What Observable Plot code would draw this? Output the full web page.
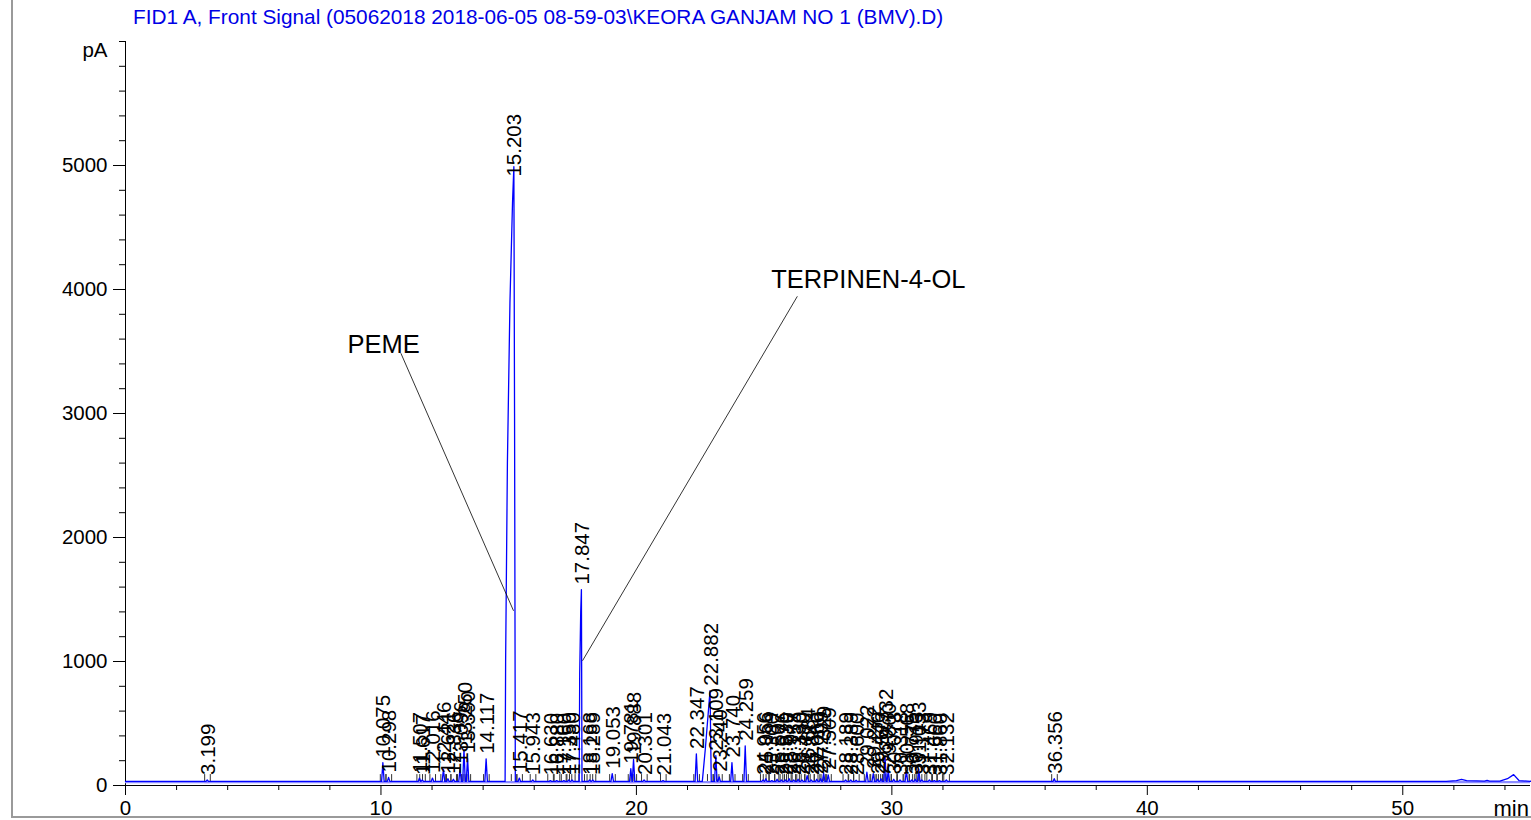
<!DOCTYPE html>
<html><head><meta charset="utf-8">
<script src="https://cdn.jsdelivr.net/npm/d3@7"></script>
<script src="https://cdn.jsdelivr.net/npm/@observablehq/plot@0.6"></script>
<style>
body{margin:0;background:#fff;}
#wrap{position:relative;width:1531px;height:820px;overflow:hidden;font-family:"Liberation Sans",Arial,sans-serif;background:#fff;}
#title{position:absolute;left:133px;top:5px;font-size:20.8px;line-height:24px;color:#0000e6;white-space:nowrap;}
#chart{position:absolute;left:0;top:0;}
#frame{position:absolute;left:11px;top:-3px;width:1530px;height:819px;border-left:2px solid #9a9a9a;border-bottom:2px solid #9a9a9a;pointer-events:none;}
</style></head><body>
<div id="wrap"><div id="chart"></div><div id="title">FID1 A, Front Signal (05062018 2018-06-05 08-59-03\KEORA GANJAM NO 1 (BMV).D)</div><div id="frame"></div></div>
<script>
// ---- data ----
const baseline = 33; // pA
const peakRT = [3.199, 10.075, 10.298, 11.507, 11.617, 12.016, 12.446, 12.621, 12.836, 13.096, 13.250, 13.390, 14.117,
  15.203, 15.417, 15.943, 16.630, 16.880, 17.160, 17.350, 17.480, 17.847, 18.168, 18.289, 19.053, 19.781, 19.888, 20.301, 21.043,
  22.347, 22.882, 23.109, 23.240, 23.740, 24.259,
  24.956, 25.066, 25.300, 25.507, 25.676, 25.830, 25.977, 26.158, 26.330, 26.480, 26.684, 26.843, 27.060, 27.209, 27.329, 27.509,
  28.189, 28.389, 28.600, 29.022, 29.272, 29.440, 29.573, 29.732, 29.860, 30.073, 30.318, 30.568, 30.775, 30.913, 31.053, 31.173,
  31.469, 31.660, 31.860, 32.132, 36.356];
const peakHeight = [45, 185, 65, 60, 45, 60, 130, 55, 50, 135, 290, 220, 215,
  4870, 60, 45, 40, 40, 40, 45, 45, 1580, 45, 45, 95, 135, 210, 45, 40,
  255, 765, 240, 70, 185, 320,
  45, 55, 40, 50, 45, 45, 55, 45, 50, 45, 80, 45, 50, 55, 97, 85,
  45, 45, 42, 107, 95, 50, 55, 235, 120, 50, 45, 120, 45, 50, 130, 45,
  45, 40, 40, 45, 55];
// explicitly traced shapes (overloaded / fronting peaks and the late baseline humps)
const shapeTime = [14.86, 14.88, 14.95, 15.05, 15.15, 15.203, 15.23, 15.26,
  17.76, 17.78, 17.82, 17.847, 17.87,
  22.58, 22.70, 22.882, 22.93,
  51.7, 52.1, 52.3, 52.5, 52.9, 53.2, 53.3, 53.4, 53.8, 54.1, 54.34, 54.55, 55];
const shapeValue = [33, 1000, 2600, 3900, 4700, 4990, 3000, 33,
  33, 900, 1400, 1580, 33,
  33, 300, 765, 33,
  33, 40, 50, 40, 38, 36, 42, 36, 36, 55, 88, 40, 36];
const shapedPeaks = [15.203, 17.847, 22.882];
const annotText = ["PEME", "TERPINEN-4-OL"];
const annotTime = [8.69, 25.28];
const annotValue = [3486, 4010];
const annotLineFrom = [[10.78, 3486], [26.3, 3945]];
const annotLineTo = [[15.19, 1409], [17.89, 1006]];
const xMajor = [0, 10, 20, 30, 40, 50];
const yMajor = [0, 1000, 2000, 3000, 4000, 5000];

// ---- build tables ----
const peaks = peakRT.map((rt, i) => ({rt, h: peakHeight[i], label: rt.toFixed(3)}));
const half = 0.05;
let trace = [{t: 0, v: baseline}, {t: 55, v: baseline}];
for (const p of peaks) {
  if (shapedPeaks.includes(p.rt)) continue;
  trace.push({t: p.rt - half, v: baseline}, {t: p.rt, v: p.h}, {t: p.rt + half, v: baseline});
}
shapeTime.forEach((t, i) => trace.push({t, v: shapeValue[i]}));
trace.sort((a, b) => a.t - b.t);
const marks = peaks.flatMap(p => [p.rt - 0.1, p.rt + 0.12]);
const annots = annotText.map((text, i) => ({text, t: annotTime[i], v: annotValue[i]}));
const links = annotLineFrom.map((f, i) => ({x1: f[0], y1: f[1], x2: annotLineTo[i][0], y2: annotLineTo[i][1]}));
const xMinor = d3.range(0, 55.01, 2).filter(d => d % 10 !== 0);
const yMinor = d3.range(0, 6001, 200).filter(d => d % 1000 !== 0);

const chart = Plot.plot({
  width: 1531, height: 820,
  marginLeft: 125, marginRight: 1, marginTop: 41, marginBottom: 35,
  x: {domain: [0, 55]},
  y: {domain: [0, 6000]},
  style: {fontFamily: "'Liberation Sans', Arial, sans-serif", fontSize: "20px", color: "black", background: "transparent", overflow: "visible"},
  marks: [
    Plot.axisX({ticks: xMajor, tickSize: 10, tickPadding: 5, fontSize: 20.5, tickFormat: d => String(d), label: null}),
    Plot.axisX({ticks: xMinor, tickSize: 5, tickFormat: () => "", label: null}),
    Plot.axisY({ticks: yMajor, tickSize: 12, tickPadding: 6, fontSize: 20.5, tickFormat: d => String(d), label: null}),
    Plot.axisY({ticks: yMinor.concat([6000]), tickSize: 6, tickFormat: () => "", label: null}),
    Plot.ruleY([6000], {x1: 0, x2: 0, dx: -12}),
    Plot.ruleX([0], {y1: 0, y2: 6000}),
    Plot.ruleY([0], {x1: 0, x2: 55}),
    Plot.text(["pA"], {frameAnchor: "top-left", textAnchor: "end", lineAnchor: "middle", dx: -18, dy: 9, fontSize: 20.5}),
    Plot.text(["min"], {frameAnchor: "bottom-right", textAnchor: "start", lineAnchor: "middle", dx: -37, dy: 23, fontSize: 22}),
    Plot.ruleY(peaks, {y: () => baseline, x1: d => d.rt - 0.1, x2: d => d.rt + 0.12, stroke: "#ff40ff", strokeWidth: 1.5, dy: 1}),
    Plot.ruleX(marks, {x: d => d, y1: baseline - 15, y2: baseline + 55, stroke: "#333", strokeWidth: 1}),
    Plot.ruleY([baseline], {x1: 0, x2: 55, stroke: "#8c8cff", strokeWidth: 2.2, dy: 0.8}),
    Plot.line(trace, {x: "t", y: "v", stroke: "#0000ff", strokeWidth: 1.3}),
    Plot.text(peaks, {x: "rt", y: "h", text: "label", rotate: -90, textAnchor: "start", lineAnchor: "middle", dx: 1, dy: -5, fontSize: 20.5}),
    Plot.link(links, {x1: "x1", y1: "y1", x2: "x2", y2: "y2", stroke: "black", strokeWidth: 0.8}),
    Plot.text(annots, {x: "t", y: "v", text: "text", textAnchor: "start", lineAnchor: "bottom", fontSize: 25.5})
  ]
});
document.getElementById("chart").appendChild(chart);
</script>
</body></html>
